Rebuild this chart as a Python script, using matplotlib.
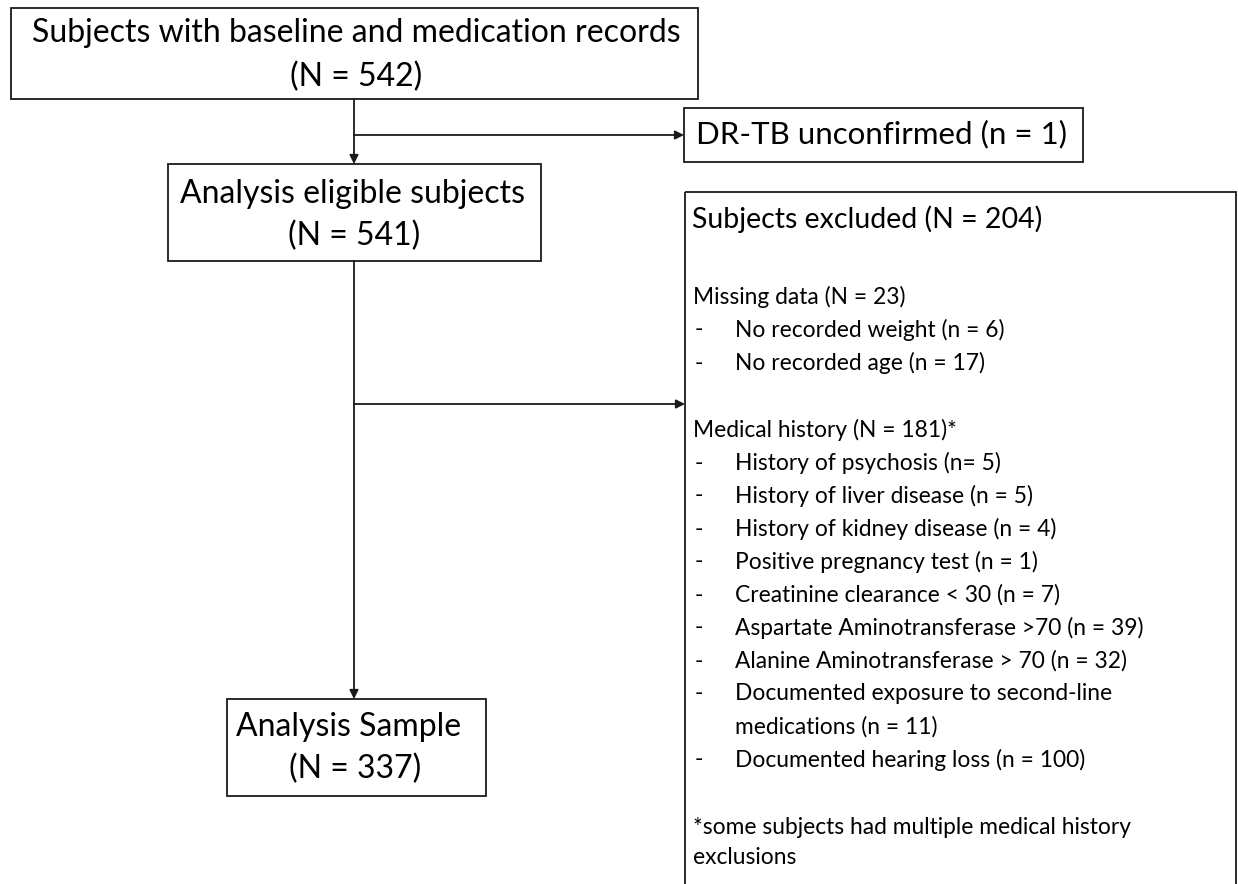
import matplotlib.pyplot as plt
from matplotlib.patches import Rectangle

plt.rcParams['font.family'] = ['Lato', 'DejaVu Sans']

# counts shown in the flow chart
n_total = 542
n_unconfirmed = 1
n_eligible = 541
n_excluded = 204
n_sample = 337
n_missing = 23
n_history = 181

missing_items = ['No recorded weight (n = {})', 'No recorded age (n = {})']
missing_counts = [6, 17]

history_items = [
    'History of psychosis (n= {})',
    'History of liver disease (n = {})',
    'History of kidney disease (n = {})',
    'Positive pregnancy test (n = {})',
    'Creatinine clearance < 30 (n = {})',
    'Aspartate Aminotransferase >70 (n = {})',
    'Alanine Aminotransferase > 70 (n = {})',
    'Documented exposure to second-line\nmedications (n = {})',
    'Documented hearing loss (n = {})',
]
history_counts = [5, 5, 4, 1, 7, 39, 32, 11, 100]

footnote = ['*some subjects had multiple medical history', 'exclusions']

big = 23
mid = 20.5
small = 16.4
lw = 1.3

fig = plt.figure(figsize=(12.38, 8.84), dpi=100)
ax = fig.add_axes([0, 0, 1, 1])
ax.set_xlim(0, 1238)
ax.set_ylim(884, 0)
ax.axis('off')


def box(x0, y0, x1, y1):
    ax.add_patch(Rectangle((x0, y0), x1 - x0, y1 - y0, fill=False,
                           lw=lw, ec='#1a1a1a'))


def arrow(x0, y0, x1, y1):
    ax.annotate('', xy=(x1, y1), xytext=(x0, y0),
                arrowprops=dict(arrowstyle='-|>', lw=lw, color='#1a1a1a',
                                mutation_scale=13, shrinkA=0, shrinkB=0))


# boxes on the main path
box(11, 8, 698, 99)
ax.text(356, 33, 'Subjects with baseline and medication records',
        ha='center', va='center', fontsize=big)
ax.text(356, 77, f'(N = {n_total})', ha='center', va='center', fontsize=big)

box(168, 164, 541, 261)
ax.text(352, 194, 'Analysis eligible subjects', ha='center', va='center', fontsize=big)
ax.text(354, 236, f'(N = {n_eligible})', ha='center', va='center', fontsize=big)

box(227, 699, 486, 796)
ax.text(349, 727, 'Analysis Sample', ha='center', va='center', fontsize=big)
ax.text(355, 769, f'(N = {n_sample})', ha='center', va='center', fontsize=big)

# side boxes
box(684, 108, 1083, 162)
ax.text(696, 134, f'DR-TB unconfirmed (n = {n_unconfirmed})',
        ha='left', va='center', fontsize=22.5)

box(685, 192, 1236, 900)
ax.text(692, 219, f'Subjects excluded (N = {n_excluded})',
        ha='left', va='center', fontsize=mid)

# arrows
arrow(354, 99, 354, 164)
arrow(354, 135, 684, 135)
arrow(354, 261, 354, 699)
arrow(354, 404, 685, 404)

# exclusion details
step = 33
y = 297
ax.text(693, y, f'Missing data (N = {n_missing})', va='center', fontsize=small)
for item, c in zip(missing_items, missing_counts):
    y += step
    ax.text(695, y, '-', va='center', fontsize=small)
    ax.text(735, y, item.format(c), va='center', fontsize=small)

y = 430
ax.text(693, y, f'Medical history (N = {n_history})*', va='center', fontsize=small)
for item, c in zip(history_items, history_counts):
    y += step
    ax.text(695, y, '-', va='center', fontsize=small)
    for k, line in enumerate(item.format(c).split('\n')):
        if k:
            y += step
        ax.text(735, y, line, va='center', fontsize=small)

y = 828
for line in footnote:
    ax.text(693, y, line, va='center', fontsize=small)
    y += 30

plt.savefig('out.png', dpi=100)
